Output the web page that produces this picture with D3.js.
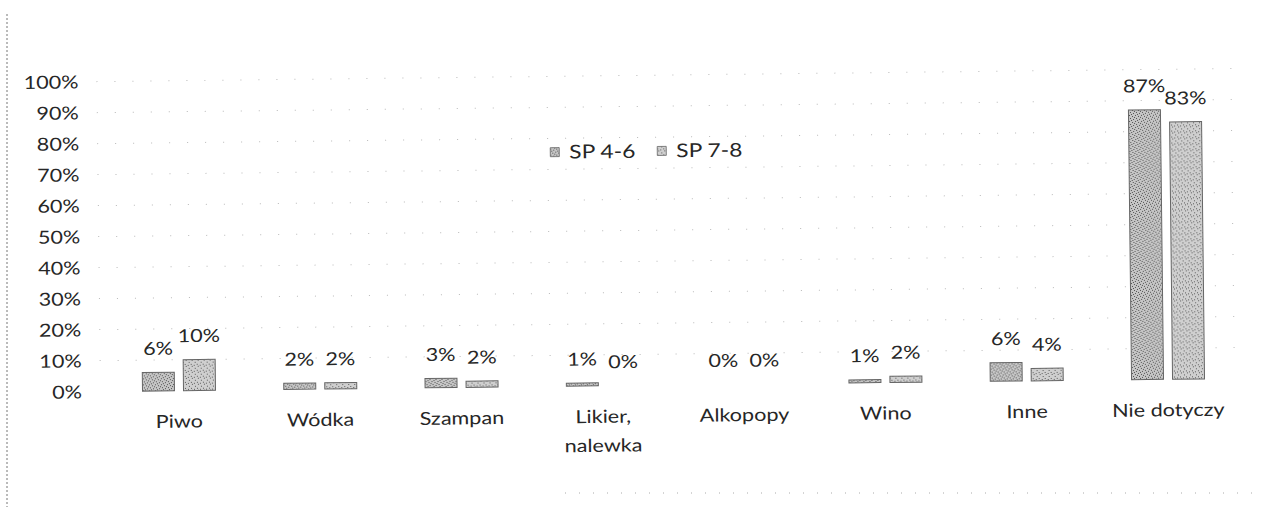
<!DOCTYPE html>
<html>
<head>
<meta charset="utf-8">
<script src="https://cdn.jsdelivr.net/npm/d3@7/dist/d3.min.js"></script>
<style>
  html, body { margin: 0; padding: 0; background: #fff; }
  svg { display: block; }
  text { font-family: Lato, "Open Sans", sans-serif; fill: #262626; }
</style>
</head>
<body>
<svg id="chart" width="1262" height="507"></svg>
<script>
// ---- data ----
const categories = ["Piwo", "Wódka", "Szampan", "Likier,\nnalewka", "Alkopopy", "Wino", "Inne", "Nie dotyczy"];
const seriesNames = ["SP 4-6", "SP 7-8"];
const sp46 = [6, 2, 3, 1, 0, 1, 6, 87];
const sp78 = [10, 2, 2, 0, 0, 2, 4, 83];
const yTicks = [0, 10, 20, 30, 40, 50, 60, 70, 80, 90, 100];

const svg = d3.select("#chart");
const defs = svg.append("defs");

// speckled gray textures (scan-like)
function makePattern(id, bg, dark, cells) {
  const p = defs.append("pattern").attr("id", id)
    .attr("patternUnits", "userSpaceOnUse").attr("width", 6).attr("height", 6);
  p.append("rect").attr("width", 6).attr("height", 6).attr("fill", bg);
  cells.forEach(c => p.append("rect").attr("x", c[0]).attr("y", c[1])
    .attr("width", 1).attr("height", 1).attr("fill", dark));
}
makePattern("pat0", "#c6c6c6", "#505050", [[0,0],[3,1],[1,3],[4,4],[2,5],[5,2]]);
makePattern("pat1", "#cfcfcf", "#5a5a5a", [[1,0],[4,2],[0,4],[3,5]]);

// page frame remnants
svg.append("line").attr("x1", 7).attr("x2", 7).attr("y1", 14).attr("y2", 507)
  .attr("stroke", "#777").attr("stroke-dasharray", "2 2");
svg.append("line").attr("x1", 565).attr("x2", 1262).attr("y1", 493).attr("y2", 493)
  .attr("stroke", "#aaa").attr("stroke-dasharray", "1 13");

// slightly rotated chart group (scanned page skew)
const pivotX = 179, base = 390.7;
const g = svg.append("g").attr("transform", `rotate(-0.66, ${pivotX}, ${base})`);

const y = d3.scaleLinear().domain([0, 100]).range([base, base - 310]);
const step = 141.3;
const x = d3.scaleBand().domain(categories)
  .range([pivotX - step / 2, pivotX - step / 2 + step * categories.length])
  .paddingInner(0).paddingOuter(0);
const xs = d3.scaleBand().domain(seriesNames).range([-36.5, 36.5]).paddingInner(0.22);

const SX = 1.2; // horizontal stretch of scanned text
function addText(sel, tx, ty, str, size, anchor) {
  return sel.append("text")
    .attr("transform", `translate(${tx},${ty}) scale(${SX},1)`)
    .attr("text-anchor", anchor).attr("font-size", size).text(str);
}

// faint dotted gridlines
g.append("g").selectAll("line").data(yTicks.filter(d => d > 0)).join("line")
  .attr("x1", 100).attr("x2", 1250)
  .attr("y1", d => y(d)).attr("y2", d => y(d))
  .attr("stroke", "#b8b8b8").attr("stroke-width", 1).attr("stroke-dasharray", "1 17");

// y-axis labels
const yAxis = g.append("g");
yTicks.forEach(t => addText(yAxis, 82, y(t) + 6.5, t + "%", 18, "end"));

// bars
const rows = categories.map((c, i) => ({ cat: c, vals: [sp46[i], sp78[i]] }));
const groups = g.append("g").selectAll("g").data(rows).join("g")
  .attr("transform", d => `translate(${x(d.cat) + x.bandwidth() / 2},0)`);

groups.each(function (d) {
  const grp = d3.select(this);
  d.vals.forEach((v, k) => {
    const s = seriesNames[k];
    if (v > 0) {
      grp.append("rect")
        .attr("x", xs(s)).attr("y", y(v))
        .attr("width", xs.bandwidth()).attr("height", y(0) - y(v))
        .attr("fill", `url(#pat${k})`)
        .attr("stroke", "#666").attr("stroke-width", 1);
    }
    addText(grp, xs(s) + xs.bandwidth() / 2, y(v) - 17.5, v + "%", 18, "middle");
  });
  // category label (may wrap)
  const lines = d.cat.split("\n");
  lines.forEach((ln, li) => addText(grp, 0, base + 37 + li * 29, ln, 18, "middle"));
});

// legend
const legend = g.append("g");
const legX = [553, 660];
seriesNames.forEach((s, k) => {
  legend.append("rect").attr("x", legX[k]).attr("y", 152).attr("width", 9).attr("height", 9)
    .attr("fill", `url(#pat${k})`).attr("stroke", "#666").attr("stroke-width", 0.8);
  addText(legend, legX[k] + 19, 163, s, 19, "start");
});
</script>
</body>
</html>
